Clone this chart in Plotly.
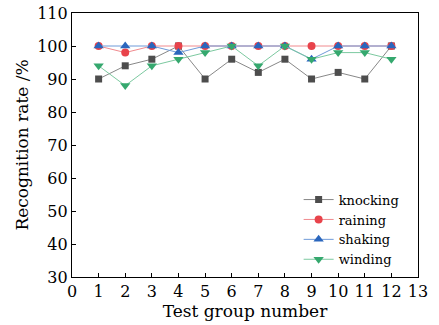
import plotly.graph_objects as go

groups = list(range(1, 13))
knocking = [90, 94, 96, 100, 90, 96, 92, 96, 90, 92, 90, 100]
raining = [100, 98, 100, 100, 100, 100, 100, 100, 100, 100, 100, 100]
shaking = [100, 100, 100, 98, 100, 100, 100, 100, 96, 100, 100, 100]
winding = [94, 88, 94, 96, 98, 100, 94, 100, 96, 98, 98, 96]

x_ticks = list(range(0, 14))
y_ticks = list(range(30, 111, 10))

FONT = "'DejaVu Serif', 'Liberation Serif', serif"

series = [
    ("knocking", knocking, "#4d4d4d", "#888888", "square", 7),
    ("raining", raining, "#e8434b", "#f08a8e", "circle", 8),
    ("shaking", shaking, "#2a66bd", "#6f9ad8", "triangle-up", 9),
    ("winding", winding, "#35a86e", "#7cc9a0", "triangle-down", 9),
]

fig = go.Figure()
for name, vals, mc, lc, sym, sz in series:
    fig.add_trace(go.Scatter(
        x=groups, y=vals, name=name, mode="lines+markers",
        line=dict(color=lc, width=1),
        marker=dict(color=mc, symbol=sym, size=sz),
    ))

axis_common = dict(
    showline=True, linecolor="black", linewidth=1.2, mirror=True,
    ticks="inside", ticklen=4, tickcolor="black", showgrid=False, zeroline=False,
    tickfont=dict(family=FONT, size=16, color="black"), automargin=False,
)

fig.update_layout(
    width=439, height=325,
    margin=dict(l=72, r=21, t=13, b=48),
    plot_bgcolor="white", paper_bgcolor="white",
    font=dict(family=FONT, color="black"),
    showlegend=True,
    legend=dict(x=0.655, y=0.35, xanchor="left", yanchor="top",
                font=dict(family=FONT, size=13, color="black"),
                bgcolor="rgba(0,0,0,0)", tracegroupgap=0, itemwidth=30),
    xaxis=dict(range=[0, 13], tickvals=x_ticks,
               title=dict(text="Test group number", font=dict(family=FONT, size=17), standoff=0),
               **axis_common),
    yaxis=dict(range=[30, 110], tickvals=y_ticks,
               title=dict(text="Recognition rate /%", font=dict(family=FONT, size=17), standoff=4),
               **axis_common),
)

fig.write_html("out.html", config={"displayModeBar": False},
               post_script="document.body.style.margin='0';document.body.style.overflow='hidden';")
